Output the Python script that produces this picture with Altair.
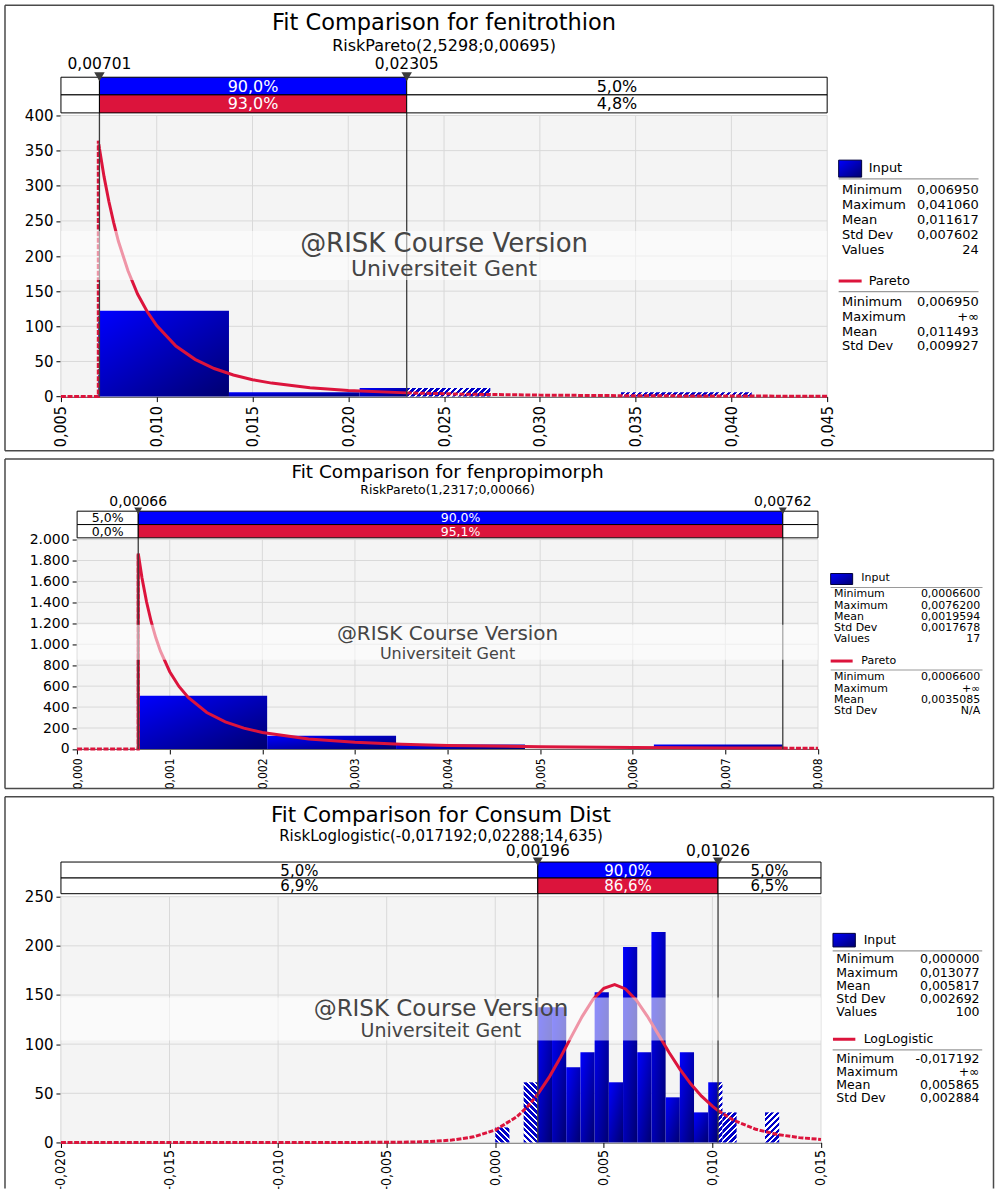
import math
import altair as alt
import pandas as pd

# ------------------------------------------------------------------ style
FONT = "DejaVu Sans"
NARROW = "Liberation Sans Narrow, DejaVu Sans Condensed, Arial Narrow, DejaVu Sans"
BLUE = "#0000ff"
RED = "#dc143c"
HATCH = "#0000c8"
DARK = "#3c3c3c"
GRID = "#d9d9d9"
PLOT_BG = "#f4f4f4"

STAT_NAMES_INPUT = ["Minimum", "Maximum", "Mean", "Std Dev", "Values"]
STAT_NAMES_FIT = ["Minimum", "Maximum", "Mean", "Std Dev"]
WATERMARK = ["@RISK Course Version", "Universiteit Gent"]

# ------------------------------------------------------------------ fenitrothion
feni_title = "Fit Comparison for fenitrothion"
feni_subtitle = "RiskPareto(2,5298;0,00695)"
feni_x_ticks = [0.005, 0.010, 0.015, 0.020, 0.025, 0.030, 0.035, 0.040, 0.045]
feni_y_ticks = [0, 50, 100, 150, 200, 250, 300, 350, 400]
feni_bin_edges = [0.00695, 0.013772, 0.020594, 0.027416, 0.034238, 0.04106]
feni_bin_density = [122.2, 6.1, 12.2, 0.0, 6.1]
feni_fit_x = [0.005, 0.00695, 0.00695, 0.00701, 0.00725, 0.0075, 0.00775, 0.008,
              0.0085, 0.009, 0.0095, 0.010, 0.011, 0.012, 0.013, 0.014, 0.015,
              0.016, 0.018, 0.020, 0.02305, 0.026, 0.030, 0.035, 0.040, 0.045]
feni_fit_y = [0, 0, 364, 353, 313, 278, 248, 221, 179, 146, 121, 101, 72, 53, 40,
              30.7, 24.1, 19.2, 12.7, 8.7, 5.3, 3.5, 2.1, 1.2, 0.8, 0.5]
feni_cuts = [0.00701, 0.02305]
feni_cut_labels = ["0,00701", "0,02305"]
feni_input_share = ["", "90,0%", "5,0%"]
feni_fit_share = ["", "93,0%", "4,8%"]
feni_input_stats = ["0,006950", "0,041060", "0,011617", "0,007602", "24"]
feni_fit_name = "Pareto"
feni_fit_stats = ["0,006950", "+∞", "0,011493", "0,009927"]

# ------------------------------------------------------------------ fenpropimorph
fenp_title = "Fit Comparison for fenpropimorph"
fenp_subtitle = "RiskPareto(1,2317;0,00066)"
fenp_x_ticks = [0.000, 0.001, 0.002, 0.003, 0.004, 0.005, 0.006, 0.007, 0.008]
fenp_y_ticks = [0, 200, 400, 600, 800, 1000, 1200, 1400, 1600, 1800, 2000]
fenp_bin_edges = [0.00066, 0.002052, 0.003444, 0.004836, 0.006228, 0.00762]
fenp_bin_density = [507.1, 126.8, 42.3, 0.0, 42.3]
fenp_fit_x = [0.0, 0.00066, 0.00066, 0.0007, 0.00075, 0.0008, 0.00085, 0.0009,
              0.001, 0.0011, 0.0012, 0.0014, 0.0016, 0.0018, 0.002, 0.0025, 0.003,
              0.0035, 0.004, 0.005, 0.006, 0.007, 0.00762, 0.008]
fenp_fit_y = [0, 0, 1866, 1636, 1403, 1215, 1061, 934, 738, 597, 492, 348, 259,
              199, 157, 96, 64, 45, 33.5, 20.3, 13.5, 9.6, 7.9, 7.1]
fenp_cuts = [0.00066, 0.00762]
fenp_cut_labels = ["0,00066", "0,00762"]
fenp_input_share = ["5,0%", "90,0%", ""]
fenp_fit_share = ["0,0%", "95,1%", ""]
fenp_input_stats = ["0,0006600", "0,0076200", "0,0019594", "0,0017678", "17"]
fenp_fit_name = "Pareto"
fenp_fit_stats = ["0,0006600", "+∞", "0,0035085", "N/A"]

# ------------------------------------------------------------------ Consum Dist
cons_title = "Fit Comparison for Consum Dist"
cons_subtitle = "RiskLoglogistic(-0,017192;0,02288;14,635)"
cons_x_ticks = [-0.020, -0.015, -0.010, -0.005, 0.000, 0.005, 0.010, 0.015]
cons_y_ticks = [0, 50, 100, 150, 200, 250]
cons_bin_edges = [0.0, 0.000654, 0.001308, 0.001962, 0.002615, 0.003269, 0.003923,
                  0.004577, 0.005231, 0.005885, 0.006539, 0.007192, 0.007846,
                  0.0085, 0.009154, 0.009808, 0.010462, 0.011115, 0.011769,
                  0.012423, 0.013077]
cons_bin_density = [15.3, 0.0, 61.2, 137.6, 137.6, 76.5, 91.8, 152.9, 61.2, 198.8,
                    91.8, 214.1, 45.9, 91.8, 30.6, 61.2, 30.6, 0.0, 0.0, 30.6]
cons_fit_x = [-0.020, -0.017, -0.010, -0.007, -0.005, -0.004, -0.003, -0.002,
              -0.001, 0.000, 0.001, 0.0015, 0.00196, 0.0025, 0.003, 0.0035, 0.004,
              0.0045, 0.005, 0.0055, 0.006, 0.0065, 0.007, 0.0075, 0.008, 0.0085,
              0.009, 0.0095, 0.010, 0.01026, 0.011, 0.012, 0.013, 0.014, 0.015]
cons_fit_y = [0, 0, 0, 0.02, 0.12, 0.35, 0.95, 2.4, 5.7, 12.6, 26.2, 36.7, 49.1,
              67.0, 86.4, 107.4, 128.0, 145.4, 156.9, 160.6, 156.2, 144.8, 128.6,
              110.2, 91.7, 74.6, 59.6, 47.1, 36.9, 32.4, 22.3, 13.4, 8.1, 4.9, 3.0]
cons_cuts = [0.00196, 0.01026]
cons_cut_labels = ["0,00196", "0,01026"]
cons_input_share = ["5,0%", "90,0%", "5,0%"]
cons_fit_share = ["6,9%", "86,6%", "6,5%"]
cons_input_stats = ["0,000000", "0,013077", "0,005817", "0,002692", "100"]
cons_fit_name = "LogLogistic"
cons_fit_stats = ["-0,017192", "+∞", "0,005865", "0,002884"]

PANELS = [
    dict(title=feni_title, subtitle=feni_subtitle, x_ticks=feni_x_ticks, y_ticks=feni_y_ticks,
         edges=feni_bin_edges, density=feni_bin_density, fit_x=feni_fit_x, fit_y=feni_fit_y,
         cuts=feni_cuts, cut_labels=feni_cut_labels, input_share=feni_input_share,
         fit_share=feni_fit_share, input_stats=feni_input_stats, fit_name=feni_fit_name,
         fit_stats=feni_fit_stats),
    dict(title=fenp_title, subtitle=fenp_subtitle, x_ticks=fenp_x_ticks, y_ticks=fenp_y_ticks,
         edges=fenp_bin_edges, density=fenp_bin_density, fit_x=fenp_fit_x, fit_y=fenp_fit_y,
         cuts=fenp_cuts, cut_labels=fenp_cut_labels, input_share=fenp_input_share,
         fit_share=fenp_fit_share, input_stats=fenp_input_stats, fit_name=fenp_fit_name,
         fit_stats=fenp_fit_stats),
    dict(title=cons_title, subtitle=cons_subtitle, x_ticks=cons_x_ticks, y_ticks=cons_y_ticks,
         edges=cons_bin_edges, density=cons_bin_density, fit_x=cons_fit_x, fit_y=cons_fit_y,
         cuts=cons_cuts, cut_labels=cons_cut_labels, input_share=cons_input_share,
         fit_share=cons_fit_share, input_stats=cons_input_stats, fit_name=cons_fit_name,
         fit_stats=cons_fit_stats),
]

# page-pixel layout of each panel (plot = left, top, right, bottom)
ORIGIN_X = 60.5
LAYOUTS = [
    dict(plot=(60.5, 114.3, 827.5, 395.7), frame=(4.5, 4, 994, 450), bottom_edge=True,
         title_y=22, title_size=22.5, sub_y=45, sub_size=16, cut_y=63, cut_size=15.5,
         tri_y=75.5, tri_size=110, row1=(76, 93.7), row2=(93.7, 111.7), share_size=16,
         wm_band=(230, 279), wm1=(242.5, 26), wm2=(267.5, 22),
         sw=(839, 862, 159, 176), head_x=869, head1_y=167, sep1_y=177.7, sep_x=(839, 979),
         rows1=(189.3, 14.8), lab_x=842.3, val_x=979.3, head2_y=280, sep2_y=290.7,
         rows2=(301.5, 14.6), leg_size=13, xlab=16, ylab=15, xpad=4),
    dict(plot=(76.7, 537.7, 818.3, 747.3), frame=(4.5, 457, 994, 787), bottom_edge=True,
         title_y=470.5, title_size=18.5, sub_y=488, sub_size=12.5, cut_y=500, cut_size=14,
         tri_y=509, tri_size=64, row1=(509.3, 522.7), row2=(522.7, 536), share_size=12.5,
         wm_band=(623, 658), wm1=(632, 20), wm2=(652, 16),
         sw=(831, 853, 571.7, 582.7), head_x=861.7, head1_y=576.5, sep1_y=585.7,
         sep_x=(831, 983), rows1=(592.7, 11.1), lab_x=834.3, val_x=980.7, head2_y=659.3,
         sep2_y=668.3, rows2=(675.7, 11.1), leg_size=11, xlab=12, ylab=14, xpad=4),
    dict(plot=(60.5, 894, 821.3, 1140), frame=(4.5, 794, 994, 1186), bottom_edge=False,
         title_y=813.5, title_size=21.5, sub_y=833, sub_size=15, cut_y=848.3, cut_size=15.5,
         tri_y=859, tri_size=100, row1=(859.3, 875.3), row2=(875.3, 891), share_size=15,
         wm_band=(995, 1038), wm1=(1006, 23), wm2=(1028, 19),
         sw=(833.3, 855.7, 930.7, 944.3), head_x=864, head1_y=937.5, sep1_y=948.3,
         sep_x=(833, 982.7), rows1=(956.7, 13.3), lab_x=836.7, val_x=980, head2_y=1036.7,
         sep2_y=1047.3, rows2=(1056, 13.2), leg_size=12.5, xlab=14, ylab=15, xpad=2),
]

BAR_FILL = alt.LinearGradient(
    gradient="linear", x1=0, y1=0, x2=1, y2=1,
    stops=[alt.GradientStop(offset=0, color="#0000ff"),
           alt.GradientStop(offset=1, color="#000070")])


def hatch_fill(wpx, hpx, backslash, period=4.2, gap=0.38):
    """Diagonal blue/white stripes, 45 degrees in screen space, for one bar."""
    wpx = max(wpx, 0.5)
    hpx = max(hpx, 0.5)
    lam = (wpx + hpx) / (wpx ** 2 + hpx ** 2)
    n = (wpx + hpx) / (period * math.sqrt(2))
    stops = []
    k = 0
    while k < n:
        a = k / n
        b = min((k + 1 - gap) / n, 1.0)
        c = min((k + 1) / n, 1.0)
        stops += [alt.GradientStop(offset=a, color=HATCH), alt.GradientStop(offset=b, color=HATCH)]
        if b < 1.0:
            stops += [alt.GradientStop(offset=b, color="#ffffff"),
                      alt.GradientStop(offset=c, color="#ffffff")]
        k += 1
    if backslash:
        return alt.LinearGradient(gradient="linear", stops=stops,
                                  x1=0, y1=1, x2=lam * wpx, y2=1 - lam * hpx)
    return alt.LinearGradient(gradient="linear", stops=stops,
                              x1=0, y1=0, x2=lam * wpx, y2=lam * hpx)


def build_panel(d, L):
    xt, yt = d["x_ticks"], d["y_ticks"]
    x_lo, x_hi, y_hi = xt[0], xt[-1], yt[-1]
    px0 = L["plot"][0] - ORIGIN_X
    W = L["plot"][2] - L["plot"][0]
    top = L["plot"][1]
    H = L["plot"][3] - top
    cut_lo, cut_hi = d["cuts"]
    one = pd.DataFrame({"k": [0]})

    def vx(p):
        return alt.value(round(p - ORIGIN_X, 2))

    def vy(p):
        return alt.value(round(p - top, 2))

    x_axis = alt.Axis(values=xt, title=None, grid=False, labelAngle=270,
                      labelExpr="replace(replace(format(datum.value, '.3f'), '.', ','), '\u2212', '-')",
                      labelFont=NARROW, labelFontSize=L["xlab"], labelFlush=False,
                      labelOverlap=False, labelPadding=L["xpad"], tickSize=5)
    y_axis = alt.Axis(values=yt, title=None, grid=False,
                      labelExpr="replace(format(datum.value, ','), ',', '.')",
                      labelFont=FONT, labelFontSize=L["ylab"], labelPadding=3, tickSize=5,
                      offset=-px0)
    x_scale = alt.Scale(domain=[x_lo, x_hi], range=[px0, px0 + W], nice=False, zero=False)
    y_scale = alt.Scale(domain=[0, y_hi], nice=False, zero=True)

    def X(f):
        return alt.X(f, type="quantitative", scale=x_scale, axis=x_axis)

    def Y(f):
        return alt.Y(f, type="quantitative", scale=y_scale, axis=y_axis)

    def text(t, x, y, size, color="black", align="center", font=FONT):
        return alt.Chart(pd.DataFrame({"t": [t]})).mark_text(
            font=font, fontSize=size, color=color, align=align, baseline="middle"
        ).encode(text="t:N", x=x, y=y)

    def rule(x, x2, y, y2, color, width=1.0):
        enc = dict(x=x, y=y)
        if x2 is not None:
            enc["x2"] = x2
        if y2 is not None:
            enc["y2"] = y2
        return alt.Chart(one).mark_rule(color=color, strokeWidth=width).encode(**enc)

    layers = []

    # plot background and grid
    layers.append(alt.Chart(one).mark_rect(fill=PLOT_BG).encode(
        x=alt.value(px0), x2=alt.value(px0 + W), y=alt.value(0), y2=alt.value(H)))
    layers.append(alt.Chart(pd.DataFrame({"t": xt})).mark_rule(color=GRID, strokeWidth=1).encode(
        x=X("t"), y=alt.value(0), y2=alt.value(H)))
    layers.append(alt.Chart(pd.DataFrame({"t": yt})).mark_rule(color=GRID, strokeWidth=1).encode(
        y=Y("t"), x=alt.value(px0), x2=alt.value(px0 + W)))

    # histogram: solid inside the cut band, hatched outside it
    solid, hatched = [], []
    for a, b, h in zip(d["edges"][:-1], d["edges"][1:], d["density"]):
        if h <= 0:
            continue
        s0, s1 = max(a, cut_lo), min(b, cut_hi)
        if s1 > s0:
            solid.append(dict(a=s0, b=s1, h=h))
        if a < cut_lo:
            hatched.append((a, min(b, cut_lo), h, True))
        if b > cut_hi:
            hatched.append((max(a, cut_hi), b, h, False))
    layers.append(alt.Chart(pd.DataFrame(solid)).mark_rect(fill=BAR_FILL).encode(
        x=X("a"), x2="b:Q", y=Y("h"), y2=alt.value(H)))
    for a, b, h, left in hatched:
        wpx = (b - a) / (x_hi - x_lo) * W
        hpx = h / y_hi * H
        layers.append(alt.Chart(pd.DataFrame({"a": [a], "b": [b], "h": [h]})).mark_rect(
            fill=hatch_fill(wpx, hpx, backslash=left)).encode(
            x=X("a"), x2="b:Q", y=Y("h"), y2=alt.value(H)))

    # fitted density: solid between the cuts, dashed in the tails
    seg_rows = []
    for i, (x, y) in enumerate(zip(d["fit_x"], d["fit_y"])):
        if x <= cut_lo:
            seg_rows.append(dict(x=x, y=y, i=i, seg="left"))
        if cut_lo <= x <= cut_hi:
            seg_rows.append(dict(x=x, y=y, i=i, seg="mid"))
        if x >= cut_hi:
            seg_rows.append(dict(x=x, y=y, i=i, seg="right"))
    curve = pd.DataFrame(seg_rows)
    layers.append(alt.Chart(curve[curve.seg != "mid"]).mark_line(
        color=RED, strokeWidth=3, strokeDash=[5, 1.6]).encode(
        x=X("x"), y=Y("y"), detail="seg:N", order="i:Q"))
    layers.append(alt.Chart(curve[curve.seg == "mid"]).mark_line(
        color=RED, strokeWidth=3).encode(x=X("x"), y=Y("y"), order="i:Q"))

    # cut lines
    cut_df = pd.DataFrame({"p": d["cuts"], "lab": d["cut_labels"]})
    layers.append(alt.Chart(cut_df).mark_rule(color=DARK, strokeWidth=1.3).encode(
        x=X("p"), y=vy(L["row1"][0]), y2=alt.value(H)))

    # watermark
    layers.append(alt.Chart(one).mark_rect(fill="white", opacity=0.55).encode(
        x=alt.value(px0), x2=alt.value(px0 + W), y=vy(L["wm_band"][0]), y2=vy(L["wm_band"][1])))
    layers.append(text(WATERMARK[0], alt.value(px0 + W / 2), vy(L["wm1"][0]), L["wm1"][1], color="#454545"))
    layers.append(text(WATERMARK[1], alt.value(px0 + W / 2), vy(L["wm2"][0]), L["wm2"][1], color="#454545"))

    # probability bands above the plot
    bounds = [x_lo, cut_lo, cut_hi, x_hi]
    for shares, mid_fill, (r0, r1) in [(d["input_share"], BLUE, L["row1"]),
                                        (d["fit_share"], RED, L["row2"])]:
        rows = pd.DataFrame({
            "a": bounds[:-1], "b": bounds[1:],
            "m": [(bounds[j] + bounds[j + 1]) / 2 for j in range(3)],
            "lab": shares,
            "fill": ["white", mid_fill, "white"],
            "tc": ["black", "white", "black"],
        })
        layers.append(alt.Chart(rows).mark_rect(stroke="black", strokeWidth=1).encode(
            x=X("a"), x2="b:Q", y=vy(r0), y2=vy(r1),
            fill=alt.Fill("fill:N", scale=None)))
        layers.append(alt.Chart(rows).mark_text(
            font=FONT, fontSize=L["share_size"], baseline="middle").encode(
            x=X("m"), y=vy((r0 + r1) / 2 + 0.5), text="lab:N",
            color=alt.Color("tc:N", scale=None)))

    layers.append(alt.Chart(cut_df).mark_point(
        shape="triangle-down", filled=True, color=DARK, opacity=1, size=L["tri_size"]).encode(
        x=X("p"), y=vy(L["tri_y"])))
    layers.append(alt.Chart(cut_df).mark_text(
        font=FONT, fontSize=L["cut_size"], baseline="middle", color="black").encode(
        x=X("p"), y=vy(L["cut_y"]), text="lab:N"))

    # titles
    layers.append(text(d["title"], alt.value(px0 + W / 2), vy(L["title_y"]), L["title_size"]))
    layers.append(text(d["subtitle"], alt.value(px0 + W / 2), vy(L["sub_y"]), L["sub_size"]))

    # statistics legend
    sx0, sx1, sy0, sy1 = L["sw"]
    layers.append(alt.Chart(one).mark_rect(fill=BAR_FILL, stroke="#00003a", strokeWidth=1).encode(
        x=vx(sx0), x2=vx(sx1), y=vy(sy0), y2=vy(sy1)))
    layers.append(text("Input", vx(L["head_x"]), vy(L["head1_y"]), L["leg_size"], align="left"))
    layers.append(rule(vx(L["sep_x"][0]), vx(L["sep_x"][1]), vy(L["sep1_y"]), None, "#9a9a9a", 1.2))
    y0, step = L["rows1"]
    for i, (nm, val) in enumerate(zip(STAT_NAMES_INPUT, d["input_stats"])):
        layers.append(text(nm, vx(L["lab_x"]), vy(y0 + i * step), L["leg_size"], align="left"))
        layers.append(text(val, vx(L["val_x"]), vy(y0 + i * step), L["leg_size"], align="right"))
    layers.append(rule(vx(sx0), vx(sx1), vy(L["head2_y"]), None, RED, 3))
    layers.append(text(d["fit_name"], vx(L["head_x"]), vy(L["head2_y"]), L["leg_size"], align="left"))
    layers.append(rule(vx(L["sep_x"][0]), vx(L["sep_x"][1]), vy(L["sep2_y"]), None, "#9a9a9a", 1.2))
    y0, step = L["rows2"]
    for i, (nm, val) in enumerate(zip(STAT_NAMES_FIT, d["fit_stats"])):
        layers.append(text(nm, vx(L["lab_x"]), vy(y0 + i * step), L["leg_size"], align="left"))
        layers.append(text(val, vx(L["val_x"]), vy(y0 + i * step), L["leg_size"], align="right"))

    # panel frame
    fl, ft, fr, fb = L["frame"]
    layers.append(rule(vx(fl), vx(fr), vy(ft), None, "#4a4a4a", 1.5))
    layers.append(rule(vx(fl), None, vy(ft), vy(fb), "#4a4a4a", 1.5))
    layers.append(rule(vx(fr), None, vy(ft), vy(fb), "#4a4a4a", 1.5))
    if L["bottom_edge"]:
        layers.append(rule(vx(fl), vx(fr), vy(fb), None, "#4a4a4a", 1.5))

    return alt.layer(*layers).properties(width=px0 + W, height=H)


panels = [build_panel(d, L) for d, L in zip(PANELS, LAYOUTS)]

chart = (
    alt.vconcat(*panels, spacing=5.5)
    .properties(padding={"left": 4, "top": 3, "right": 0, "bottom": 0}, background="white")
    .configure_view(strokeWidth=0)
    .configure_axis(domainColor="black", tickColor="black", labelColor="black",
                    domainWidth=1, tickWidth=1)
)

chart.save("out.html", embed_options={"renderer": "svg", "actions": False})
